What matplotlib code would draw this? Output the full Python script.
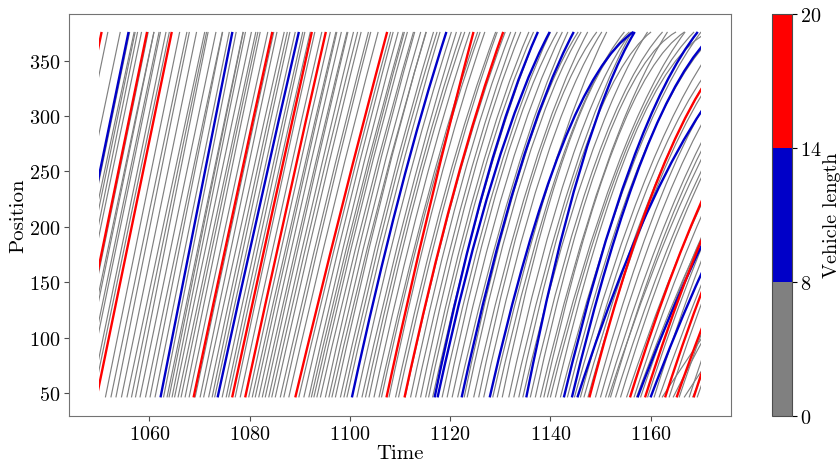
import matplotlib
matplotlib.use("Agg")
import matplotlib.pyplot as plt
import numpy as np
from matplotlib.colors import ListedColormap, BoundaryNorm
from matplotlib.cm import ScalarMappable
from matplotlib.path import Path
from matplotlib.patches import PathPatch, Rectangle

plt.rcParams["font.family"] = "serif"
plt.rcParams["font.serif"] = ["cmr10"]
plt.rcParams["mathtext.fontset"] = "cm"
plt.rcParams["axes.formatter.use_mathtext"] = True

# ----- DATA -----

# road section and observation window
pos_start, pos_end = 46, 376
t_start, t_end = 1050, 1170

# cars (short vehicles): entry time at pos_start, speed at entry, speed at exit
car_enter = [
    1036.7, 1039.0, 1041.05, 1041.6, 1042.15, 1042.8, 1043.25, 1044.75, 1045.55, 1045.9,
    1046.75, 1047.2, 1048.3, 1048.8,
    1051.2, 1052.3, 1053.3, 1054.4, 1055.5, 1056.4, 1057.2, 1058.1, 1059.2, 1060.1,
    1061.1, 1062.8, 1063.5, 1063.9, 1064.5, 1065.0, 1065.7, 1066.3, 1067.1, 1067.9,
    1069.1, 1070.1, 1070.8, 1071.8, 1072.5, 1073.0, 1074.5, 1075.3, 1075.8, 1077.1,
    1078.1, 1079.8, 1080.5, 1081.1, 1081.8, 1082.5, 1083.1, 1083.8, 1084.4,
    1085.1, 1086.1, 1086.8, 1087.8, 1089.8, 1090.8, 1091.8, 1092.3, 1092.8, 1093.4,
    1094.1, 1095.1, 1095.8, 1096.4, 1097.1, 1098.1, 1098.8, 1099.4,
    1101.4, 1102.4, 1103.1, 1103.8, 1104.8, 1105.8, 1106.3, 1107.8, 1109.1, 1109.7,
    1111.0, 1112.1, 1113.1, 1114.1, 1115.1, 1115.7, 1116.5, 1118.4, 1119.4, 1120.4,
    1121.5, 1122.8, 1123.4, 1124.7, 1125.7, 1126.7, 1128.5, 1129.4, 1130.4, 1131.7,
    1132.7, 1133.7, 1134.5, 1136.0, 1137.0, 1138.0, 1138.7, 1139.4, 1140.0, 1141.0,
    1142.0, 1143.4, 1144.8, 1146.0, 1146.7, 1147.5, 1149.0, 1150.0, 1151.0, 1151.6,
    1152.0, 1153.0, 1154.0, 1155.2, 1156.7, 1157.2, 1158.0, 1159.4, 1160.7, 1161.7,
    1162.3, 1163.7, 1164.5, 1165.7, 1166.7, 1167.7, 1168.4, 1169.3,
]
car_v_in = [
    22, 22, 22, 22, 22, 22, 22, 22, 22, 22,
    22, 22, 22, 22,
    22.5, 22, 23, 22, 21.5, 22.5, 23, 22, 22, 23,
    22.5, 23, 22, 22.5, 23, 22, 21.5, 22, 22.5, 21.5,
    21.5, 22, 21, 21.5, 22, 21, 21, 21.5, 21, 21.5,
    21, 21, 20.5, 21, 21, 20.5, 21, 20.5, 20.5,
    20.5, 20, 20.5, 20, 19.5, 20, 20.5, 20, 20, 20.5,
    20, 21, 20.5, 20, 21, 20.5, 21, 20.5,
    21, 20.5, 21, 21.5, 21, 20.5, 21, 21.5, 21, 21,
    21, 21.5, 21, 22, 21.5, 21.5, 20.5, 21, 22, 21,
    20, 22, 21.5, 20.5, 22, 21, 20, 20.5, 22, 21,
    20, 21.5, 19.5, 20, 21, 19, 20.5, 18, 18.5, 19.5,
    17.5, 18, 16.5, 17, 16, 16.5, 16.5, 16, 15, 14,
    15.5, 14.5, 15, 13.5, 14, 12.5, 13.5, 14, 14.5, 13,
    7, 14, 9, 13.5, 7, 14, 11, 13,
]
car_v_out = [
    22, 21.5, 22, 21, 22, 22.5, 21.5, 22, 21, 22,
    21.5, 22, 22, 21.5,
    22, 21.5, 22, 22, 21, 21.5, 22.5, 21.5, 21, 22.5,
    22, 22.5, 21.5, 22, 22, 21, 21, 21, 21.5, 20.5,
    20.5, 21, 20, 20.5, 20.5, 20, 20, 20.5, 19.5, 20,
    19.5, 19.5, 19, 19.5, 19, 18.5, 19, 18.5, 18,
    18, 17.5, 17.5, 17, 16.5, 17, 16.5, 16, 16.5, 16,
    15.5, 16, 15.5, 15, 15.5, 15, 14.5, 15,
    14, 14.5, 13.5, 13, 13.5, 13, 12.5, 13, 12, 12.5,
    12, 11.5, 12, 11, 10.5, 10, 11, 9.5, 8, 9,
    10, 7, 7.5, 8.5, 6, 7, 9, 5.5, 4, 6,
    8, 3.5, 7, 5, 2.5, 7, 3, 6, 4.5, 2,
    6, 4, 5.5, 3, 5, 3.5, 2.5, 3, 4.5, 5,
    2.5, 3.5, 2, 4.5, 4, 3, 3, 4, 3.5, 4.5,
    3, 3, 4, 4, 3.5, 3, 3, 4,
]
car_length = 4.5

# long vehicles
truck_enter = [
    1035.45, 1040.83, 1044.52, 1049.45, 1062.2, 1068.8, 1073.6, 1076.5, 1079.1, 1089.1,
    1100.4, 1107.3, 1110.9, 1116.9, 1117.5, 1122.3, 1127.9, 1135.2, 1142.7, 1144.3,
    1145.4, 1147.8, 1155.9, 1157.4, 1158.9, 1160.0, 1162.9, 1165.2, 1168.6,
]
truck_length = [
    18, 11, 18, 18, 11, 18, 11, 18, 18, 18,
    11, 18, 18, 11, 11, 11, 11, 11, 11, 11,
    11, 18, 18, 11, 18, 11, 18, 18, 18,
]
truck_v_in = [
    22, 22, 22, 22, 23, 21.5, 21, 21, 21, 19,
    21, 21, 21, 22, 21, 21, 20, 23, 19, 19,
    14, 17.5, 14.5, 12, 14.2, 12, 14, 13, 14,
]
truck_v_out = [
    22, 22, 22, 22, 23, 20.5, 19.7, 20.5, 20, 17,
    14, 17, 12.5, 10, 8.5, 8.5, 3, 7.5, 5.7, 4,
    2.5, 3, 4, 3.5, 4, 4, 4, 4, 4,
]

length_bounds = [0, 8, 14, 20]
length_colors = ["#808080", "#0000c8", "#ff0000"]


def trajectory(t0, v0, v1):
    """
    constant deceleration trajectory from pos_start to pos_end as a quadratic bezier
    """
    T = 2 * (pos_end - pos_start) / (v0 + v1)
    verts = [(t0, pos_start), (t0 + T / 2, pos_start + v0 * T / 2), (t0 + T, pos_end)]
    return Path(verts, [Path.MOVETO, Path.CURVE3, Path.CURVE3])


cmap = ListedColormap(length_colors)
norm = BoundaryNorm(length_bounds, cmap.N)

fig = plt.figure(figsize=(8.4, 4.64), dpi=100)
ax = fig.add_axes([0.0825, 0.102, 0.7874, 0.8664])
cax = fig.add_axes([0.919, 0.102, 0.0238, 0.8664])

window = Rectangle((t_start, 0), t_end - t_start, 1000, transform=ax.transData)

for t0, v0, v1 in zip(car_enter, car_v_in, car_v_out):
    p = PathPatch(trajectory(t0, v0, v1), fill=False, edgecolor=cmap(norm(car_length)),
                  lw=0.85, zorder=2)
    ax.add_patch(p)
    p.set_clip_path(window)

for t0, ln, v0, v1 in zip(truck_enter, truck_length, truck_v_in, truck_v_out):
    p = PathPatch(trajectory(t0, v0, v1), fill=False, edgecolor=cmap(norm(ln)),
                  lw=1.7, zorder=3)
    ax.add_patch(p)
    p.set_clip_path(window)

ax.set_xlim(1044, 1176)
ax.set_ylim(29.5, 392.5)
ax.set_xticks([1060, 1080, 1100, 1120, 1140, 1160])
ax.set_yticks([50, 100, 150, 200, 250, 300, 350])
ax.tick_params(labelsize=14.5, color="0.3", pad=3)
for s in ax.spines.values():
    s.set_color("0.45")
ax.set_xlabel("Time", fontsize=15, labelpad=1)
ax.set_ylabel("Position", fontsize=15, labelpad=1)

cb = fig.colorbar(ScalarMappable(norm=norm, cmap=cmap), cax=cax, ticks=length_bounds)
cb.ax.tick_params(labelsize=14.5, pad=2)
cb.set_label("Vehicle length", fontsize=14.5, labelpad=1)
cb.outline.set_edgecolor("0.3")

fig.savefig("out.png", dpi=100)
